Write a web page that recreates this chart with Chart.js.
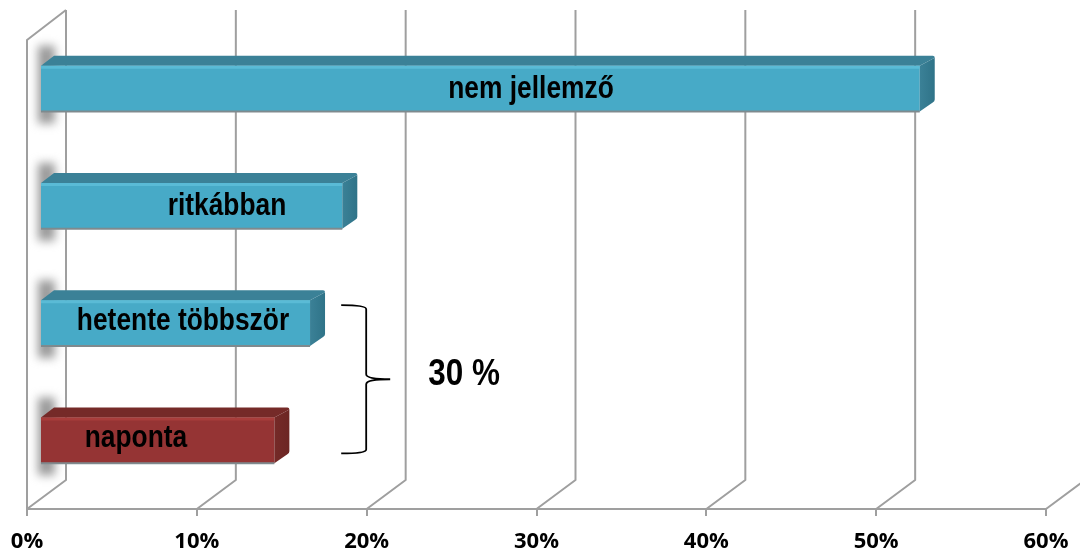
<!DOCTYPE html>
<html>
<head>
<meta charset="utf-8">
<style>
  html, body { margin: 0; padding: 0; background: #fff; }
  canvas { display: block; }
</style>
<script src="https://cdn.jsdelivr.net/npm/chart.js@4"></script>
</head>
<body>
<canvas id="chart" width="1080" height="556"></canvas>
<script>
const categories = ['nem jellemző', 'ritkábban', 'hetente többször', 'naponta'];
const values = [51.8, 17.8, 15.9, 13.8];
const frontColors = ['#47aac7', '#47aac7', '#47aac7', '#953434'];
const topColors = ['#3b8197', '#3b8197', '#3b8197', '#752a28'];
const sideColors = ['#2f7388', '#2f7388', '#2f7388', '#6c2623'];
const edgeColors = ['#5abbd6', '#5abbd6', '#5abbd6', '#a83d3b'];
const bracketLabel = '30 %';
const bracketFrom = 2;
const bracketTo = 3;

const GRID = '#9f9f9f';
const WALL_X = 39, WALL_Y = 29, WALL_TOP = 10;
const BAR_X = 13, BAR_Y = -10;
const FACE_X = 15, FACE_Y = 10;
// where the text sits, from the bar's left end in px (as in the picture)
const labelShift = [490, 186, 142, 95];
const NARROW = 0.85;

// no narrow bold font is installed, so squeeze Liberation Sans sideways
function narrowText(ctx, text, x, y, size) {
  ctx.save();
  ctx.font = 'bold ' + size + 'px "Liberation Sans", sans-serif';
  ctx.translate(x, y);
  ctx.scale(NARROW, 1);
  ctx.fillText(text, 0, 0);
  ctx.restore();
}

const walls = {
  id: 'walls',
  beforeDatasetsDraw(chart) {
    const { ctx, scales: { x }, chartArea: a } = chart;
    ctx.save();
    ctx.strokeStyle = GRID;
    ctx.lineWidth = 2;
    ctx.lineJoin = 'round';
    // left wall
    ctx.beginPath();
    ctx.moveTo(a.left, a.bottom);
    ctx.lineTo(a.left, a.top);
    ctx.lineTo(a.left + WALL_X, WALL_TOP);
    ctx.stroke();
    // grid lines going back and up the back wall
    x.ticks.forEach((t, i) => {
      const px = x.getPixelForTick(i);
      ctx.beginPath();
      ctx.moveTo(px, a.bottom);
      ctx.lineTo(px + WALL_X, a.bottom - WALL_Y);
      ctx.lineTo(px + WALL_X, WALL_TOP);
      ctx.stroke();
    });
    // blurred shadow each bar throws on the left wall
    ctx.save();
    ctx.filter = 'blur(5px)';
    ctx.fillStyle = '#999999';
    chart.getDatasetMeta(0).data.forEach(b => {
      const h = b.height;
      ctx.fillRect(a.left + 11, b.y + BAR_Y - h / 2 - 20, 17, h + 32);
    });
    ctx.restore();
    ctx.restore();
    ctx.save();
    ctx.translate(BAR_X, BAR_Y);
  },
  afterDatasetsDraw(chart) {
    const { ctx, scales: { x } } = chart;
    const bars = chart.getDatasetMeta(0).data;
    bars.forEach((b, i) => {
      const l = b.base, r = b.x, t = b.y - b.height / 2, btm = b.y + b.height / 2;
      // top face
      ctx.fillStyle = topColors[i];
      ctx.beginPath();
      ctx.moveTo(l, t);
      ctx.lineTo(l + FACE_X - 2, t - FACE_Y);
      ctx.lineTo(r + FACE_X - 2, t - FACE_Y);
      ctx.quadraticCurveTo(r + FACE_X, t - FACE_Y, r + FACE_X, t - FACE_Y + 2);
      ctx.lineTo(r, t);
      ctx.closePath();
      ctx.fill();
      // side face
      const side = ctx.createLinearGradient(r, 0, r + FACE_X, 0);
      side.addColorStop(0, topColors[i]);
      side.addColorStop(1, sideColors[i]);
      ctx.fillStyle = side;
      ctx.beginPath();
      ctx.moveTo(r, t);
      ctx.lineTo(r + FACE_X, t - FACE_Y + 2);
      ctx.lineTo(r + FACE_X, btm - FACE_Y - 2);
      ctx.quadraticCurveTo(r + FACE_X, btm - FACE_Y, r + FACE_X - 2, btm - FACE_Y + 1);
      ctx.lineTo(r, btm);
      ctx.closePath();
      ctx.fill();
      // bevel highlight and bottom edge
      ctx.fillStyle = edgeColors[i];
      ctx.fillRect(l, t, r - l, 3);
      ctx.fillStyle = '#7f8a8e';
      ctx.fillRect(l, btm - 1, r - l, 2);
    });
    ctx.restore();

    // labels inside the bars
    ctx.save();
    ctx.fillStyle = '#000';
    ctx.textAlign = 'center';
    ctx.textBaseline = 'middle';
    bars.forEach((b, i) => {
      narrowText(ctx, categories[i], b.base + BAR_X + labelShift[i], b.y + BAR_Y + (i > 1 ? -2 : 1), 31);
    });

    // brace around the two lower groups
    const top = bars[bracketFrom].y + BAR_Y - 18;
    const bot = bars[bracketTo].y + BAR_Y + 13;
    const mid = (top + bot) / 2;
    const left = x.getPixelForValue(18.5), spine = left + 25, tip = left + 49;
    ctx.strokeStyle = '#000';
    ctx.lineWidth = 1.8;
    ctx.beginPath();
    ctx.moveTo(left, top);
    ctx.quadraticCurveTo(spine, top, spine, top + 4);
    ctx.lineTo(spine, mid - 5);
    ctx.quadraticCurveTo(spine, mid, tip, mid);
    ctx.quadraticCurveTo(spine, mid, spine, mid + 5);
    ctx.lineTo(spine, bot - 4);
    ctx.quadraticCurveTo(spine, bot, left, bot);
    ctx.stroke();
    narrowText(ctx, bracketLabel, tip + 74, mid - 4, 37);
    ctx.restore();
  }
};

new Chart(document.getElementById('chart'), {
  type: 'bar',
  data: {
    labels: categories,
    datasets: [{
      data: values,
      backgroundColor: frontColors,
      borderWidth: 0,
      categoryPercentage: 1,
      barPercentage: 0.39
    }]
  },
  options: {
    indexAxis: 'y',
    responsive: false,
    animation: false,
    events: [],
    layout: { padding: { left: 27, right: 34, top: 40, bottom: 0 } },
    plugins: { legend: { display: false }, tooltip: { enabled: false } },
    scales: {
      y: { display: false },
      x: {
        min: 0,
        max: 60,
        afterFit(scale) {
          scale.height = 47;
          scale.paddingLeft = 0;
          scale.paddingRight = 0;
        },
        border: { color: GRID, width: 2 },
        grid: { drawOnChartArea: false, color: GRID, lineWidth: 2, tickLength: 7 },
        ticks: {
          stepSize: 10,
          maxRotation: 0,
          padding: 13,
          color: '#000',
          font: { family: '"Open Sans", sans-serif', size: 22, weight: 'bold' },
          callback: v => v + '%'
        }
      }
    }
  },
  plugins: [walls]
});
</script>
</body>
</html>
